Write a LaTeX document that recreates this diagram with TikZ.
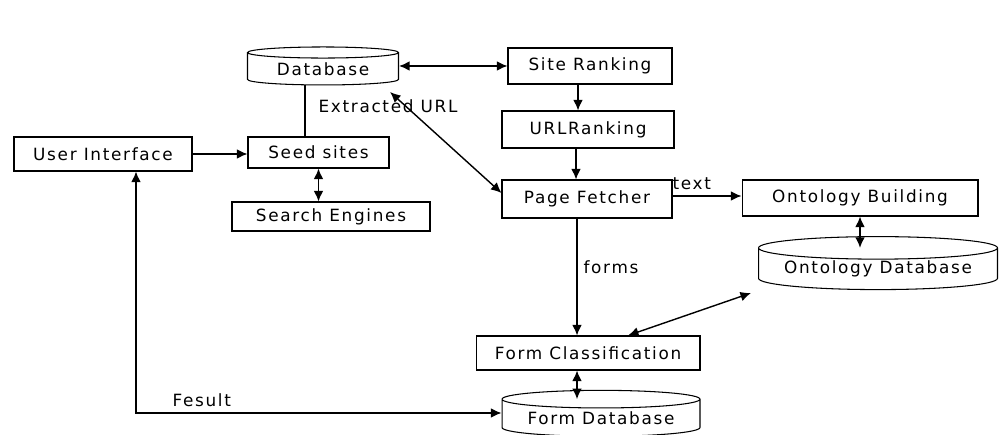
\documentclass[tikz,border=0pt]{standalone}
\usepackage{fontspec}
\setmainfont{DejaVu Sans}
\newfontfamily\diagfont[LetterSpace=10]{DejaVu Sans}
\usetikzlibrary{arrows.meta,shapes.geometric}

\begin{document}
\begin{tikzpicture}[x=0.02cm, y=-0.02cm,
  box/.style={draw, line width=0.6pt, inner sep=0pt, font=\diagfont\fontsize{9.6}{11}\selectfont},
  dbase/.style={cylinder, shape border rotate=90, aspect=0.12, draw, line width=0.6pt, inner sep=0pt, font=\diagfont\fontsize{9.6}{11}\selectfont},
  link/.style={line width=0.8pt, -{Latex[length=6pt,width=5.5pt]}},
  both/.style={line width=0.8pt, {Latex[length=6pt,width=5.5pt]}-{Latex[length=6pt,width=5.5pt]}},
  lbl/.style={font=\diagfont\fontsize{9.6}{11}\selectfont}]
 	\useasboundingbox (0,0) rectangle (1000,435);
 	% nodes
 	\node[dbase, minimum width=3.02cm, minimum height=0.76cm] (db) at (323,69) {Database};
 	\node[box, minimum width=3.28cm, minimum height=0.72cm] (site) at (590,66) {Site Ranking};
 	\node[box, minimum width=3.44cm, minimum height=0.74cm] (url) at (588,129.5) {URLRanking};
 	\node[box, minimum width=3.4cm, minimum height=0.76cm] (page) at (587,199) {Page Fetcher};
 	\node[box, minimum width=3.56cm, minimum height=0.68cm] (ui) at (103,154) {User Interface};
 	\node[box, minimum width=2.82cm, minimum height=0.62cm] (seed) at (318.5,152.5) {Seed sites};
 	\node[box, minimum width=3.96cm, minimum height=0.58cm] (search) at (331,216.5) {Search Engines};
 	\node[box, minimum width=4.72cm, minimum height=0.72cm] (ontb) at (860,198) {Ontology Building};
 	\node[dbase, minimum width=4.78cm, minimum height=1.06cm] (ontdb) at (878,269) {Ontology Database};
 	\node[box, minimum width=4.48cm, minimum height=0.68cm] (formc) at (588,353) {Form Classification};
 	\node[dbase, minimum width=3.96cm, minimum height=0.92cm] (formdb) at (601,418) {Form Database};
 	% connectors
 	\draw[both] (db.east |- site.west) -- (site.west);
 	\draw[link] ([xshift=-0.24cm]site.south) -- ([xshift=-0.24cm]site.south |- url.north);
 	\draw[link] ([xshift=-0.24cm]url.south) -- ([xshift=-0.24cm]url.south |- page.north);
 	\draw[line width=0.6pt] ([xshift=-0.36cm]db.south) -- ([xshift=-0.36cm]db.south |- seed.north);
 	\draw[both] ([xshift=-0.18cm,yshift=-0.46cm]db.east) -- ([yshift=0.12cm]page.west);
 	\draw[link] (ui.east) -- (ui.east -| seed.west);
 	\draw[both] (seed.south) -- (seed.south |- search.north);
 	\draw[link] ([yshift=0.06cm]page.east) -- node[lbl, above, pos=0.28] (txt) {text} ([yshift=0.06cm]page.east -| ontb.west);
 	\draw[both] (ontb.south) -- (ontb.south |- ontdb.before top);
 	\draw[link] ([xshift=-0.2cm]page.south) -- node[lbl, right, pos=0.42] (frm) {forms} ([xshift=-0.2cm]page.south |- formc.north);
 	\draw[both] ([xshift=-0.14cm,yshift=-0.48cm]ontdb.west) -- ([xshift=0.8cm]formc.north);
 	\draw[both] ([xshift=-0.22cm]formc.south) -- ([xshift=-0.22cm]formc.south |- formdb.before top);
 	\coordinate (corner) at (136,413);
 	\draw[both] (ui.south -| corner) -- (corner) -- node[lbl, above, pos=0.18] (res) {Fesult} (corner -| formdb.west);
 	\node[lbl] (ext) at (388,106) {Extracted URL};
\end{tikzpicture}
\end{document}
